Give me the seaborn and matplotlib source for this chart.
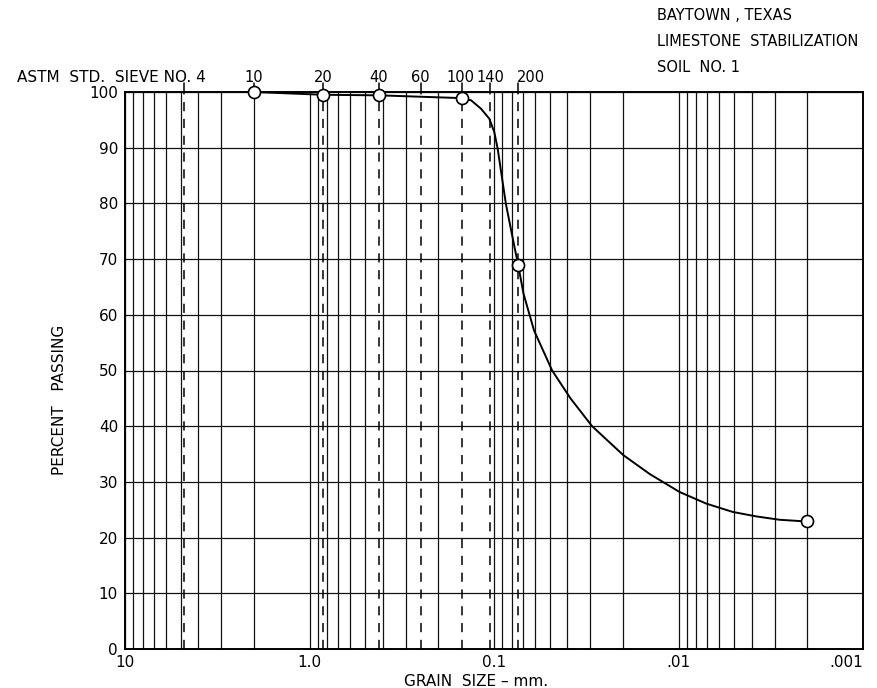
import numpy as np
import pandas as pd
import matplotlib
matplotlib.use("Agg")
import matplotlib.pyplot as plt
import matplotlib.transforms as mtransforms
from matplotlib.ticker import LogLocator, NullFormatter
import seaborn as sns

# Sieve test results (grain size in mm, percent passing)
sieve_mm = [2.0, 0.84, 0.42, 0.149, 0.074, 0.002]
sieve_pct = [100.0, 99.5, 99.4, 98.9, 69.0, 22.9]

# Gradation curve drawn through the test results
curve_mm = [2.0, 0.84, 0.42, 0.149, 0.133, 0.1176, 0.106, 0.0996, 0.0955,
            0.0862, 0.0778, 0.074, 0.0692, 0.0607, 0.0484, 0.0385, 0.0294,
            0.0199, 0.0143, 0.00988, 0.00707, 0.00507, 0.00378, 0.00283,
            0.00215, 0.002]
curve_pct = [100.0, 99.5, 99.4, 98.9, 98.5, 97.0, 95.2, 92.8, 89.8,
             79.9, 72.5, 69.0, 63.8, 57.2, 50.0, 45.0, 40.0,
             34.8, 31.4, 28.2, 26.1, 24.6, 23.8, 23.2,
             22.95, 22.9]

# ASTM standard sieve openings (mm) and their numbers
sieve_open = [4.76, 2.0, 0.84, 0.42, 0.25, 0.149, 0.105, 0.074]
sieve_no = ["4", "10", "20", "40", "60", "100", "140", "200"]
dashed_open = [4.76, 0.84, 0.42, 0.25, 0.149, 0.105, 0.074]

x_ticks = [10, 1.0, 0.1, 0.01, 0.001]
x_tick_labels = ["10", "1.0", "0.1", ".01", ".001"]
y_ticks = list(range(0, 101, 10))

sns.set_style("white")
plt.rcParams["font.family"] = ["DejaVu Sans"]
plt.rcParams["text.color"] = "black"
plt.rcParams["xtick.color"] = "black"
plt.rcParams["ytick.color"] = "black"
plt.rcParams["lines.solid_joinstyle"] = "round"

W, H = 877, 688
fig = plt.figure(figsize=(W / 100, H / 100), dpi=100)
ax = fig.add_axes([125 / W, 1 - 649 / H, (863 - 125) / W, (649 - 92) / H])

curve = pd.DataFrame({"mm": curve_mm, "pct": curve_pct})
pts = pd.DataFrame({"mm": sieve_mm, "pct": sieve_pct})

ax.set_xscale("log")
ax.set_xlim(10, 0.001)
ax.set_ylim(0, 100)

# log-paper grid
ax.xaxis.set_major_locator(LogLocator(base=10))
ax.xaxis.set_minor_locator(LogLocator(base=10, subs=np.arange(2, 10)))
ax.xaxis.set_minor_formatter(NullFormatter())
ax.set_xticks(x_ticks)
ax.set_xticklabels(x_tick_labels)
ax.set_yticks(y_ticks)
ax.grid(which="both", axis="x", color="#111111", lw=0.9)
ax.grid(which="major", axis="y", color="#111111", lw=0.9)
ax.tick_params(which="both", length=0)
ax.tick_params(axis="x", pad=4, labelsize=11)
ax.tick_params(axis="y", pad=5, labelsize=11)
ax.set_axisbelow(True)
for lab in ax.get_xticklabels():
    if lab.get_text() == ".001":
        lab.set_horizontalalignment("right")

for s in ax.spines.values():
    s.set_color("black")
    s.set_linewidth(1.4)

# dashed lines at sieve openings
for d in dashed_open:
    ax.axvline(d, color="black", lw=1.1, ls=(0, (6, 5)), zorder=1.5)

# sieve numbers along the top
trans = mtransforms.blended_transform_factory(ax.transData, ax.transAxes)
lab_y = (649 - 82) / (649 - 92)
for mm, no in zip(sieve_open, sieve_no):
    ax.plot([mm, mm], [1.0, 1.016], transform=trans, color="black", lw=1.1,
            clip_on=False)
    if no == "4":
        ax.text(mm * 0.77, lab_y, "ASTM  STD.  SIEVE NO. 4", transform=trans,
                ha="right", va="baseline", fontsize=11)
    elif no == "100":
        ax.text(mm * 1.02, lab_y, no, transform=trans, ha="center",
                va="baseline", fontsize=10.5)
    elif no == "200":
        ax.text(mm * 1.02, lab_y, no, transform=trans, ha="left",
                va="baseline", fontsize=10.5)
    else:
        ax.text(mm, lab_y, no, transform=trans, ha="center", va="baseline",
                fontsize=10.5)

sns.lineplot(data=curve, x="mm", y="pct", sort=False, estimator=None,
             color="black", lw=1.4, ax=ax, zorder=3)
sns.scatterplot(data=pts, x="mm", y="pct", marker="o", s=75,
                facecolor="white", edgecolor="black", linewidth=1.2,
                ax=ax, zorder=4, clip_on=False)

ax.set_xlabel("")
ax.set_ylabel("")

fig.text(476 / W, 1 - 681 / H, "GRAIN  SIZE – mm.", ha="center", va="center",
         fontsize=11)
fig.text(60 / W, 1 - 400 / H, "PERCENT   PASSING", rotation=90, ha="center",
         va="center", fontsize=11)

fig.text(657 / W, 1 - 15 / H, "BAYTOWN , TEXAS", ha="left", va="center",
         fontsize=10.5)
fig.text(657 / W, 1 - 42 / H, "LIMESTONE  STABILIZATION", ha="left",
         va="center", fontsize=10.5)
fig.text(657 / W, 1 - 68 / H, "SOIL  NO. 1", ha="left", va="center",
         fontsize=10.5)

fig.savefig("out.png", dpi=100, facecolor="white")
